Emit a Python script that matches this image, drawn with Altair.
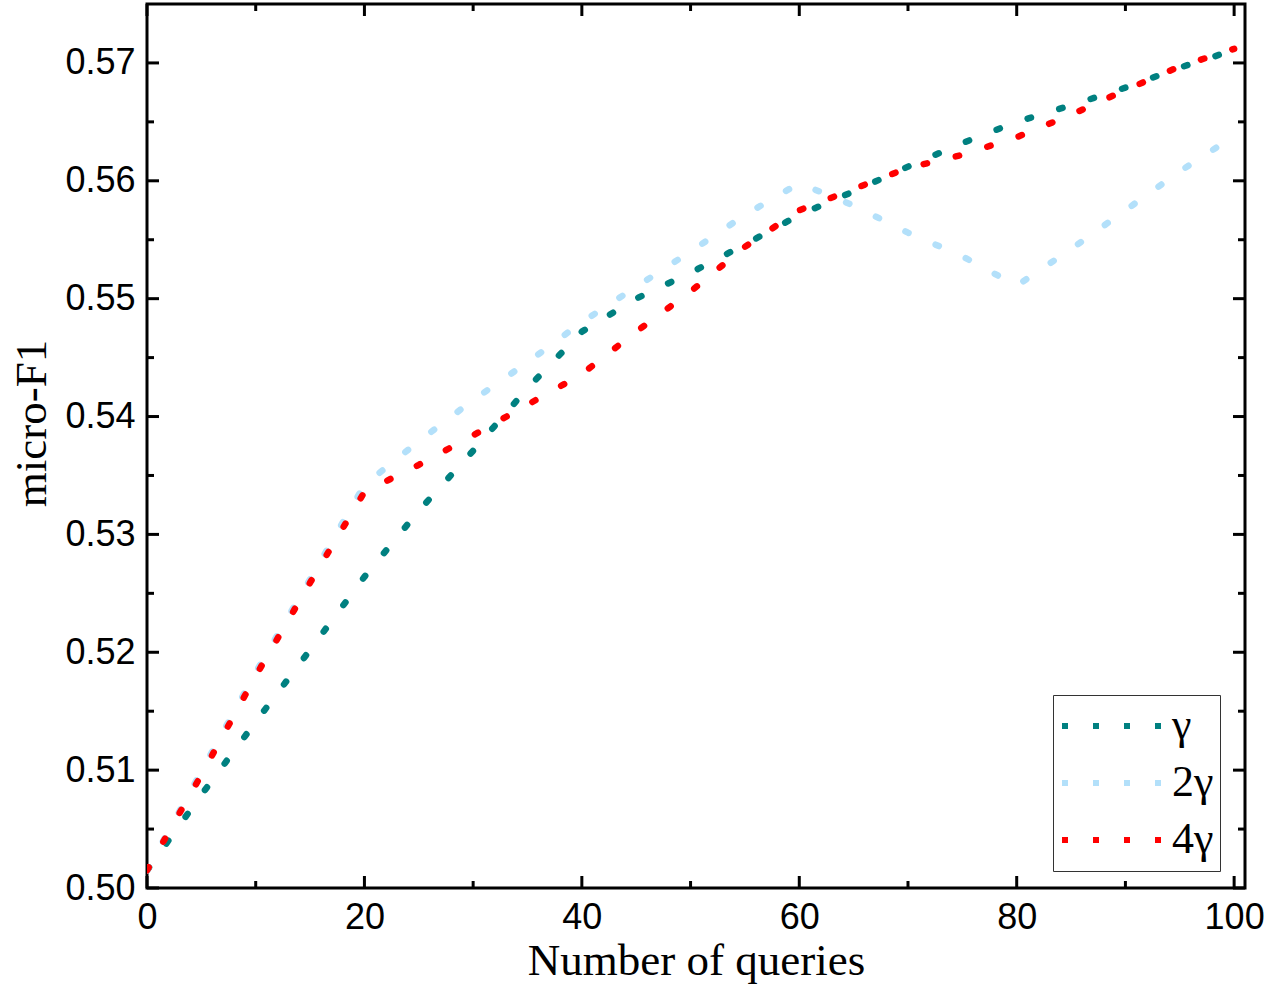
import altair as alt
import pandas as pd

queries = [0, 5, 10, 15, 20, 25, 30, 35, 40, 45, 50, 55, 60, 65, 70, 75, 80, 85, 90, 95, 100]
gamma1 = [0.5015, 0.5079, 0.5141, 0.5202, 0.5264, 0.5320, 0.5371, 0.5424, 0.5472, 0.5500,
          0.5522, 0.5546, 0.5571, 0.5591, 0.5612, 0.5632, 0.5650, 0.5664, 0.5679, 0.5696, 0.5711]
gamma2 = [0.5015, 0.5099, 0.5183, 0.5262, 0.5342, 0.5379, 0.5414, 0.5446, 0.5480, 0.5510,
          0.5540, 0.5571, 0.5598, 0.5579, 0.5556, 0.5536, 0.5511, 0.5542, 0.5575, 0.5608, 0.5638]
gamma4 = [0.5015, 0.5096, 0.5180, 0.5259, 0.5336, 0.5359, 0.5384, 0.5410, 0.5436, 0.5472,
          0.5506, 0.5544, 0.5575, 0.5593, 0.5611, 0.5622, 0.5637, 0.5656, 0.5677, 0.5697, 0.5712]
series_names = ["γ", "2γ", "4γ"]
series_colors = ["#008080", "#B3E0FA", "#FF0000"]

x_major = [0, 20, 40, 60, 80, 100]
x_minor = [10, 30, 50, 70, 90]
y_major = [0.50, 0.51, 0.52, 0.53, 0.54, 0.55, 0.56, 0.57]
y_minor = [0.505, 0.515, 0.525, 0.535, 0.545, 0.555, 0.565]

X_MIN, X_MAX = 0, 101
Y_MIN, Y_MAX = 0.50, 0.575
W, H = 1098, 884

rows = []
for name, vals in zip(series_names, [gamma1, gamma2, gamma4]):
    for q, v in zip(queries, vals):
        rows.append({"q": q, "v": v, "s": name})
df = pd.DataFrame(rows)

xs = alt.Scale(domain=[X_MIN, X_MAX], nice=False, zero=False)
ys = alt.Scale(domain=[Y_MIN, Y_MAX], nice=False, zero=False)

lines = alt.Chart(df).mark_line(
    strokeWidth=6.5, strokeDash=[3.5, 29.5], strokeCap="round", clip=True
).encode(
    x=alt.X("q:Q", scale=xs,
            axis=alt.Axis(values=x_major, title="Number of queries", format="d",
                          labelFlush=False)),
    y=alt.Y("v:Q", scale=ys,
            axis=alt.Axis(values=y_major, title="micro-F1", format=".2f",
                          labelFlush=False, titleY=419)),
    color=alt.Color("s:N", sort=series_names,
                    scale=alt.Scale(domain=series_names, range=series_colors),
                    legend=alt.Legend(title=None, orient="none", legendX=906, legendY=691,
                                      symbolType="stroke", symbolSize=11025,
                                      symbolStrokeWidth=6, symbolDash=[6, 25],
                                      clipHeight=50, rowPadding=7,
                                      labelFont="Liberation Serif", labelFontSize=44,
                                      labelColor="black", labelOffset=2,
                                      strokeColor="#333333", padding=6,
                                      fillColor="white")),
    order=alt.Order("q:Q"),
)

# inward ticks (lengths in data units derived from pixel lengths)
maj_px, min_px = 12, 7
dx_maj = maj_px * (X_MAX - X_MIN) / W
dx_min = min_px * (X_MAX - X_MIN) / W
dy_maj = maj_px * (Y_MAX - Y_MIN) / H
dy_min = min_px * (Y_MAX - Y_MIN) / H

xt = []
for vals, ln in [(x_major, dy_maj), (x_minor, dy_min)]:
    for v in vals:
        xt.append({"x": v, "a": Y_MIN, "b": Y_MIN + ln})
        xt.append({"x": v, "a": Y_MAX, "b": Y_MAX - ln})
yt = []
for vals, ln in [(y_major, dx_maj), (y_minor, dx_min)]:
    for v in vals:
        yt.append({"y": v, "a": X_MIN, "b": X_MIN + ln})
        yt.append({"y": v, "a": X_MAX, "b": X_MAX - ln})
xt_df = pd.DataFrame(xt)
yt_df = pd.DataFrame(yt)

xticks = alt.Chart(xt_df).mark_rule(color="black", strokeWidth=3).encode(
    x=alt.X("x:Q", scale=xs),
    y=alt.Y("a:Q", scale=ys),
    y2=alt.Y2("b"),
)
yticks = alt.Chart(yt_df).mark_rule(color="black", strokeWidth=3).encode(
    y=alt.Y("y:Q", scale=ys),
    x=alt.X("a:Q", scale=xs),
    x2=alt.X2("b"),
)

chart = alt.layer(lines, xticks, yticks).properties(
    width=W, height=H,
    padding={"left": 147, "top": 4, "right": 24, "bottom": 102},
    autosize="none",
    background="white",
).configure_view(
    stroke="black", strokeWidth=3
).configure_axis(
    grid=False, domain=False, ticks=False,
    labelFont="Liberation Sans", labelFontSize=36, labelColor="black",
    titleFont="Liberation Serif", titleFontWeight="normal", titleColor="black",
).configure_axisX(
    labelPadding=12, titleFontSize=45, titlePadding=3,
).configure_axisY(
    labelPadding=12, titleFontSize=45, titlePadding=10,
)

chart.save("out.html", embed_options={"renderer": "svg", "actions": False})
